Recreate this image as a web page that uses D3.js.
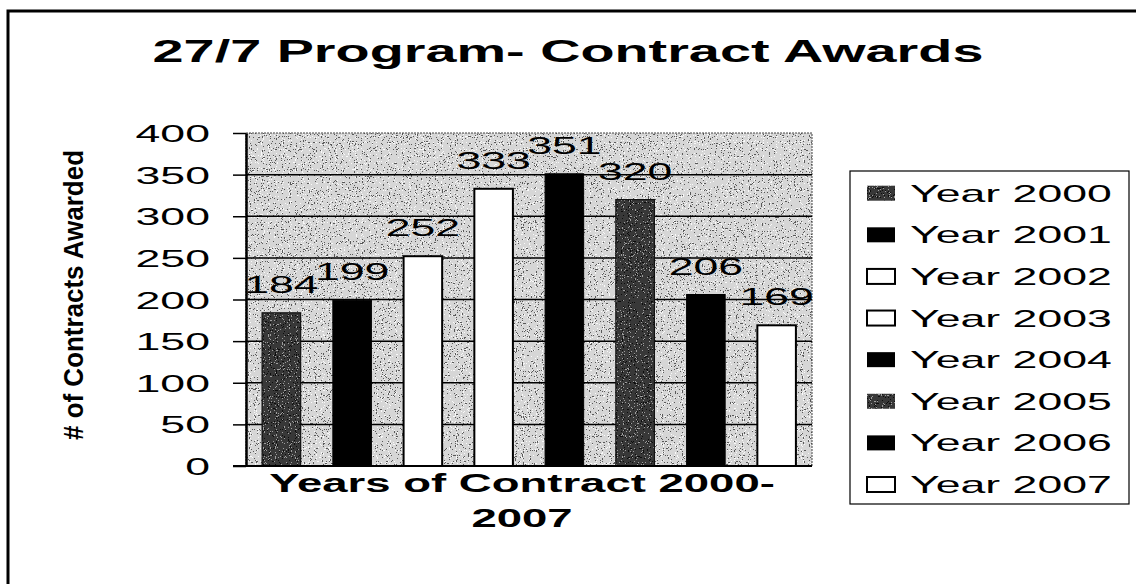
<!DOCTYPE html>
<html><head><meta charset="utf-8">
<script src="https://cdn.jsdelivr.net/npm/d3@7"></script>
<style>
html,body{margin:0;padding:0;background:#fff;}
svg{display:block;}
text{font-family:"Liberation Sans", Arial, sans-serif; fill:#000;}
</style></head><body>
<svg id="chart" width="1136" height="584"></svg>
<script>
// ---- data ----
const categories = ["Year 2000","Year 2001","Year 2002","Year 2003","Year 2004","Year 2005","Year 2006","Year 2007"];
const values = [184,199,252,333,351,320,206,169];
const yTicks = [0,50,100,150,200,250,300,350,400];
const titleText = "27/7 Program- Contract Awards";
const xTitleLines = ["Years of Contract 2000-","2007"];
const yTitleText = "# of Contracts Awarded";

// ---- layout / style ----
const SX = 1.86; // horizontal stretch of the scanned text
const plot = {left:246, right:812, top:133, bottom:466};
const svg = d3.select("#chart");

const defs = svg.append("defs");
function noiseFilter(id, table, seed){
  const f = defs.append("filter").attr("id", id)
    .attr("x",0).attr("y",0).attr("width",1).attr("height",1)
    .attr("color-interpolation-filters","sRGB");
  f.append("feTurbulence").attr("type","fractalNoise").attr("baseFrequency",0.85)
    .attr("numOctaves",2).attr("seed",seed).attr("result","t");
  f.append("feColorMatrix").attr("in","t").attr("type","matrix")
    .attr("values","1 0 0 0 0  1 0 0 0 0  1 0 0 0 0  0 0 0 0 1").attr("result","g");
  const ct = f.append("feComponentTransfer").attr("in","g").attr("result","d");
  ["feFuncR","feFuncG","feFuncB"].forEach(n => ct.append(n).attr("type","discrete").attr("tableValues",table));
  f.append("feComposite").attr("in","d").attr("in2","SourceGraphic").attr("operator","in");
}
noiseFilter("bgNoise", "0.35 0.84 0.98", 4);
noiseFilter("darkNoise", "0.05 0.22 0.62", 9);

// outer frame
svg.append("rect").attr("x",8).attr("y",11).attr("width",1140).attr("height",600)
  .attr("fill","none").attr("stroke","#000").attr("stroke-width",3);

// scales
const x = d3.scaleBand().domain(categories).range([plot.left, plot.right])
  .paddingInner(0.455).paddingOuter(0.2275);
const y = d3.scaleLinear().domain([0,400]).range([plot.bottom, plot.top]);
const fillKind = d3.scaleOrdinal().domain(categories)
  .range(["dark","black","white","white","black","dark","black","white"]);

// plot background
svg.append("rect").attr("x",plot.left).attr("y",plot.top)
  .attr("width",plot.right-plot.left).attr("height",plot.bottom-plot.top)
  .attr("fill","#c8c8c8").attr("filter","url(#bgNoise)");
svg.append("rect").attr("x",plot.left).attr("y",plot.top)
  .attr("width",plot.right-plot.left).attr("height",plot.bottom-plot.top)
  .attr("fill","none").attr("stroke","#444").attr("stroke-width",1).attr("stroke-dasharray","2,1");

// gridlines
svg.append("g").selectAll("line").data(yTicks.filter(v => v>0 && v<400)).join("line")
  .attr("x1",plot.left).attr("x2",plot.right)
  .attr("y1",d=>y(d)).attr("y2",d=>y(d))
  .attr("stroke","#000").attr("stroke-width",1.5);

// bars
function styleBar(sel){
  sel.each(function(d){
    const k = fillKind(d.c), s = d3.select(this);
    if(k==="black"){ s.attr("fill","#000").attr("stroke","#000").attr("stroke-width",1); }
    else if(k==="white"){ s.attr("fill","#fff").attr("stroke","#000").attr("stroke-width",2); }
    else { s.attr("fill","#333").attr("filter","url(#darkNoise)"); }
  });
}
const barData = categories.map((c,i)=>({c, v:values[i]}));
const gBars = svg.append("g");
gBars.selectAll("rect.bar").data(barData).join("rect").attr("class","bar")
  .attr("x",d=>x(d.c)).attr("width",x.bandwidth())
  .attr("y",d=>y(d.v)).attr("height",d=>y(0)-y(d.v))
  .call(styleBar);
// outline for textured bars
gBars.selectAll("rect.ol").data(barData.filter(d=>fillKind(d.c)==="dark")).join("rect").attr("class","ol")
  .attr("x",d=>x(d.c)).attr("width",x.bandwidth())
  .attr("y",d=>y(d.v)).attr("height",d=>y(0)-y(d.v))
  .attr("fill","none").attr("stroke","#111").attr("stroke-width",1.2);

// data labels
svg.append("g").selectAll("text").data(barData).join("text")
  .attr("text-anchor","middle").attr("font-size",24)
  .attr("transform",d=>`translate(${x(d.c)+x.bandwidth()/2},${y(d.v)-20}) scale(${SX},1)`)
  .text(d=>d.v);

// y axis
const yAxis = svg.append("g").attr("transform",`translate(${plot.left},0)`)
  .call(d3.axisLeft(y).tickValues(yTicks).tickSize(13).tickSizeOuter(0).tickPadding(0));
yAxis.select(".domain").attr("stroke","#000").attr("stroke-width",2.5);
yAxis.selectAll(".tick line").attr("stroke","#000").attr("stroke-width",1.5);
yAxis.selectAll(".tick text")
  .attr("x",0).attr("dy",null)
  .attr("font-size",24).attr("font-family","'Liberation Sans', Arial, sans-serif").attr("fill","#000")
  .attr("transform",`translate(-36,8.5) scale(${SX},1)`);
// x axis base line
svg.append("line").attr("x1",plot.left-13).attr("x2",plot.right)
  .attr("y1",y(0)).attr("y2",y(0)).attr("stroke","#000").attr("stroke-width",2);

// title
svg.append("text").attr("text-anchor","middle").attr("font-size",31).attr("font-weight","bold")
  .attr("transform",`translate(568,62) scale(1.8,1)`).text(titleText);

// x title
svg.append("g").selectAll("text").data(xTitleLines).join("text")
  .attr("text-anchor","middle").attr("font-size",25).attr("font-weight","bold")
  .attr("transform",(d,i)=>`translate(522,${492+i*35}) scale(1.82,1)`).text(d=>d);

// y title
svg.append("text").attr("text-anchor","middle").attr("font-size",28).attr("font-weight","bold")
  .attr("transform","translate(83,295) rotate(-90)")
  .attr("textLength",290).attr("lengthAdjust","spacingAndGlyphs").text(yTitleText);

// legend
const legend = {x:850, y:171, w:279, h:333};
svg.append("rect").attr("x",legend.x).attr("y",legend.y).attr("width",legend.w).attr("height",legend.h)
  .attr("fill","#fff").attr("stroke","#000").attr("stroke-width",1.2);
const ly = d3.scalePoint().domain(categories).range([201.7, 493]);
const lg = svg.append("g").selectAll("g").data(categories).join("g");
lg.append("rect").attr("x",867).attr("width",28).attr("height",15)
  .attr("y",d=>ly(d)-16)
  .each(function(c){
    const k = fillKind(c), s = d3.select(this);
    if(k==="black"){ s.attr("fill","#000"); }
    else if(k==="white"){ s.attr("fill","#fff").attr("stroke","#000").attr("stroke-width",2); }
    else { s.attr("fill","#333").attr("filter","url(#darkNoise)"); }
  });
lg.append("text").attr("font-size",24)
  .attr("transform",d=>`translate(910,${ly(d)}) scale(${SX},1)`).text(d=>d);
</script>
</body></html>
